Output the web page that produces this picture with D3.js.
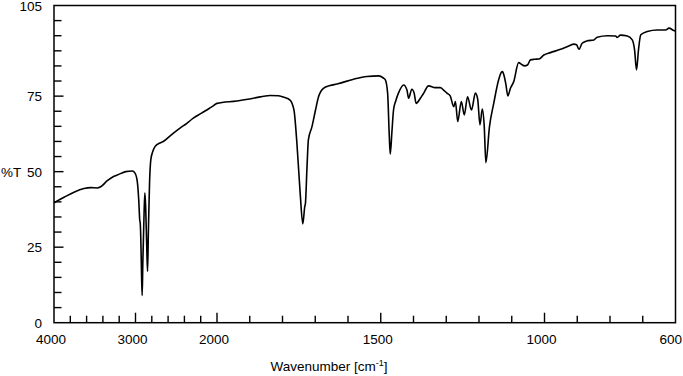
<!DOCTYPE html>
<html>
<head>
<meta charset="utf-8">
<script src="https://cdn.jsdelivr.net/npm/d3@7"></script>
<style>
  html, body { margin: 0; padding: 0; background: #fff; }
  text { font-family: "Liberation Sans", Arial, sans-serif; fill: #000; }
</style>
</head>
<body>
<svg id="chart" width="683" height="376"></svg>
<script>
// ---- data ----
const wavenumber = [4000,3877,3755,3632,3550,3469,3427,3346,3264,3223,3120,3039,3006,2978,2960,2948,2942,2935,2925,2918,2910,2895,2885,2875,2862,2852,2842,2828,2812,2790,2761,2700,2659,2560,2454,2370,2291,2200,2126,2060,2000,1940,1889,1838,1812,1795,1777,1765,1756,1746,1738,1732,1730,1725,1721,1710,1700,1690,1675,1655,1634,1583,1542,1507,1492,1486,1479,1474,1471,1466,1461,1454,1446,1430,1420,1415,1405,1398,1392,1379,1370,1354,1334,1318,1308,1298,1288,1277,1272,1265,1254,1245,1235,1223,1211,1204,1197,1190,1184,1179,1168,1155,1140,1132,1128,1124,1118,1112,1104,1094,1079,1070,1061,1052,1043,1030,1017,1002,982,951,926,910,902,895,885,870,849,839,808,783,778,768,747,732,725,719,713,706,686,656,630,620,605,600];
const transmittance = [39.7,41.5,43.2,44.4,44.7,44.6,45.0,47.0,48.5,48.9,50.0,50.2,49.5,46.7,40.5,34,33,28,15,9,20,36,43,38,25,17,30,46,54,56.5,58.3,59.5,60.0,62.2,64.4,66.0,67.7,69.2,70.4,71.5,72.6,73.4,74.3,75.2,75.1,74.6,73.7,70.4,59.4,42.8,32.7,38.5,39.5,52,60.5,64.9,70,74.8,77.6,78.5,79.0,80.6,81.5,81.7,81,80.4,76,62,55.8,63,70.4,73.5,76,78.7,77,74.3,77.3,76,72.6,74.3,75.8,78.4,77.8,77.8,77,76,75.1,71.5,73.2,66.6,73.2,68.8,74.8,70.4,76,74,65.5,70.7,65,53,64.9,72.6,80.4,82.8,83.1,82,79,75.1,77.6,79.8,86.1,85.5,85,85.3,87,87.2,87.3,88.6,89.4,90.5,91.6,92.2,92,90.5,92.5,93.3,93.6,94.5,95,94.9,94.4,95.2,94.9,93.6,90.3,83.7,90.3,95.3,96.4,96.9,96.9,97.5,96.7,96.5];

const xMajorTicks = [4000, 3000, 2000, 1500, 1000, 600];
const xMinorTicks = [3800,3600,3400,3200,2800,2600,2400,2200,1900,1800,1700,1600,1400,1300,1200,1100,900,800,700];
const yMajorTicks = [0, 25, 50, 75, 105];
const yMinorTicks = [5,10,15,20,30,35,40,45,55,60,65,70,80,85,90,95,100];

// ---- layout ----
const mLeft = 54, mRight = 675.5, mTop = 5.5, mBottom = 322.7;
const svg = d3.select("#chart");

// piecewise x scale (compressed above 2000 cm-1)
const x = d3.scaleLinear().domain([4000, 2000, 600]).range([mLeft, 217, mRight]);
const y = d3.scaleLinear().domain([0, 105]).range([mBottom, mTop]);

const g = svg.append("g");

// spectrum
const line = d3.line()
  .x((d, i) => x(wavenumber[i]))
  .y((d, i) => y(transmittance[i]))
  .curve(d3.curveMonotoneX);

g.append("path")
  .datum(wavenumber)
  .attr("d", line)
  .attr("fill", "none")
  .attr("stroke", "#000")
  .attr("stroke-width", 1.6)
  .attr("stroke-linejoin", "round");

// frame
g.append("rect")
  .attr("x", mLeft).attr("y", mTop)
  .attr("width", mRight - mLeft).attr("height", mBottom - mTop)
  .attr("fill", "none").attr("stroke", "#000").attr("stroke-width", 1.5);

// x ticks (inward)
g.selectAll(".xmaj").data(xMajorTicks.filter(t => t !== 4000 && t !== 600)).enter().append("line")
  .attr("x1", d => x(d)).attr("x2", d => x(d))
  .attr("y1", mBottom).attr("y2", mBottom - 10)
  .attr("stroke", "#000").attr("stroke-width", 1.4);
g.selectAll(".xmin").data(xMinorTicks).enter().append("line")
  .attr("x1", d => x(d)).attr("x2", d => x(d))
  .attr("y1", mBottom).attr("y2", mBottom - 7)
  .attr("stroke", "#000").attr("stroke-width", 1.4);
g.selectAll(".xlab").data(xMajorTicks).enter().append("text")
  .attr("x", d => d === 600 ? 682 : x(d) - 3).attr("y", 344)
  .attr("text-anchor", d => d === 600 ? "end" : "middle").attr("font-size", 13.5)
  .text(d => d);

// y ticks (inward)
g.selectAll(".ymaj").data(yMajorTicks.filter(t => t !== 0 && t !== 105)).enter().append("line")
  .attr("x1", mLeft).attr("x2", mLeft + 9.5)
  .attr("y1", d => y(d)).attr("y2", d => y(d))
  .attr("stroke", "#000").attr("stroke-width", 1.4);
g.selectAll(".ymin").data(yMinorTicks).enter().append("line")
  .attr("x1", mLeft).attr("x2", mLeft + 7.5)
  .attr("y1", d => y(d)).attr("y2", d => y(d))
  .attr("stroke", "#000").attr("stroke-width", 1.4);
g.selectAll(".ylab").data(yMajorTicks).enter().append("text")
  .attr("x", 42).attr("y", d => y(d) + 5)
  .attr("text-anchor", "end").attr("font-size", 13.5)
  .text(d => d);

// axis titles
svg.append("text").attr("x", 1).attr("y", 177).attr("font-size", 13.5).text("%T");
const xt = svg.append("text").attr("x", 329).attr("y", 371)
  .attr("text-anchor", "middle").attr("font-size", 13.5);
xt.append("tspan").text("Wavenumber [cm");
xt.append("tspan").attr("font-size", 9).attr("dy", -5).text("-1");
xt.append("tspan").attr("dy", 5).text("]");
</script>
</body>
</html>
